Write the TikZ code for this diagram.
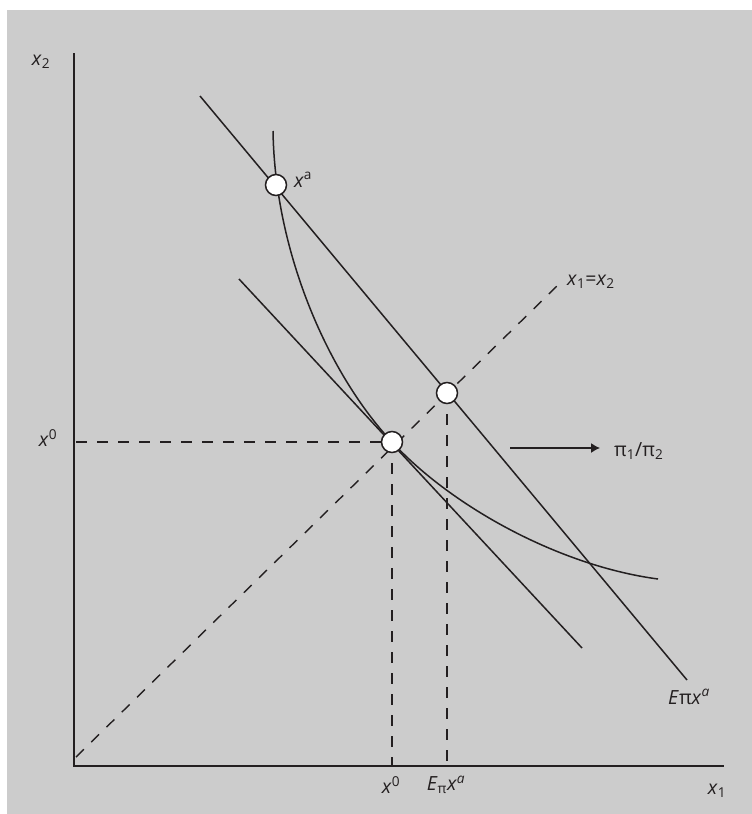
\documentclass[tikz,border=0pt]{standalone}
\usepackage{fontspec}
\setmainfont{Open Sans}
\usetikzlibrary{arrows.meta}
\definecolor{bg}{HTML}{CCCCCC}
\definecolor{ink}{HTML}{231F20}
\begin{document}
\begin{tikzpicture}[x=1pt,y=-1pt,
  inkline/.style={draw=ink, line width=1.5pt},
  guide/.style={draw=ink, line width=1.4pt, dash pattern=on 11pt off 10pt},
  diag/.style={draw=ink, line width=1.4pt, dash pattern=on 11pt off 10.35pt},
  dot/.style={circle, draw=ink, fill=white, line width=1.5pt, minimum size=21pt, inner sep=0pt},
  lbl/.style={text=ink, font=\fontsize{19.5}{22}\selectfont, inner sep=0pt}]
\fill[white] (0,0) rectangle (752,814);
\fill[bg] (7,10) rectangle (752,814);
\useasboundingbox (0,0) rectangle (752,814);
% coordinates
\coordinate (O) at (74,766);
\coordinate (ytop) at (74,53);
\coordinate (xend) at (724,766);
\coordinate (A) at (276,185);
\coordinate (E) at (447,393);
\coordinate (X) at (392,442);
\coordinate (b1) at (200,96);
\coordinate (b2) at (687,680);
\coordinate (i1) at (239,279);
\coordinate (i2) at (582,648);
\coordinate (d1) at (76,757);
\coordinate (d2) at (557,286);
\coordinate (c0) at (273,131);
\coordinate (c1) at (658,579);
\coordinate (ar1) at (510,448);
\coordinate (ar2) at (600,448);
\coordinate (h0) at (76,442);
% axes
\draw[inkline] (ytop) -- (O) -- (xend);
% guides
\draw[diag] (d1) -- (d2);
\draw[guide] (h0) -- (X);
\draw[guide] (X) -- (X |- O);
\draw[guide] (E) -- (E |- O);
% lines
\draw[inkline] (b1) -- (b2);
\draw[inkline] (i1) -- (i2);
\draw[inkline] (c0) .. controls (275,255) and (330,376) .. (X)
                    .. controls (452,507) and (560,566) .. (c1);
\draw[inkline, line width=1.3pt, -{Latex[length=9pt,width=10pt]}] (ar1) -- (ar2);
% points
\node[dot] (xa) at (A) {};
\node[dot] (ep) at (E) {};
\node[dot] (x0) at (X) {};
% labels
\node[lbl] (lx2) at (41,62) {\textit{x}\textsubscript{2}};
\node[lbl] (lx1) at (717,791) {\textit{x}\textsubscript{1}};
\node[lbl] (lx0b) at (391,785) {\textit{x}\textsuperscript{0}};
\node[lbl] (lEb) at (446,785) {\textit{E}\textsubscript{π}\textit{x}\textsuperscript{\textit{a}}};
\node[lbl] (lx0l) at (48,438) {\textit{x}\textsuperscript{0}};
\node[lbl] (lxa) at (303,180) {\textit{x}\textsuperscript{a}};
\node[lbl, anchor=west] (ldiag) at (567,282) {\textit{x}\textsubscript{1}=\textit{x}\textsubscript{2}};
\node[lbl, anchor=west] (lpi) at (614,451) {π\textsubscript{1}/π\textsubscript{2}};
\node[lbl, anchor=west] (lE) at (668,697) {\textit{E}π\textit{x}\textsuperscript{\textit{a}}};
\end{tikzpicture}
\end{document}
